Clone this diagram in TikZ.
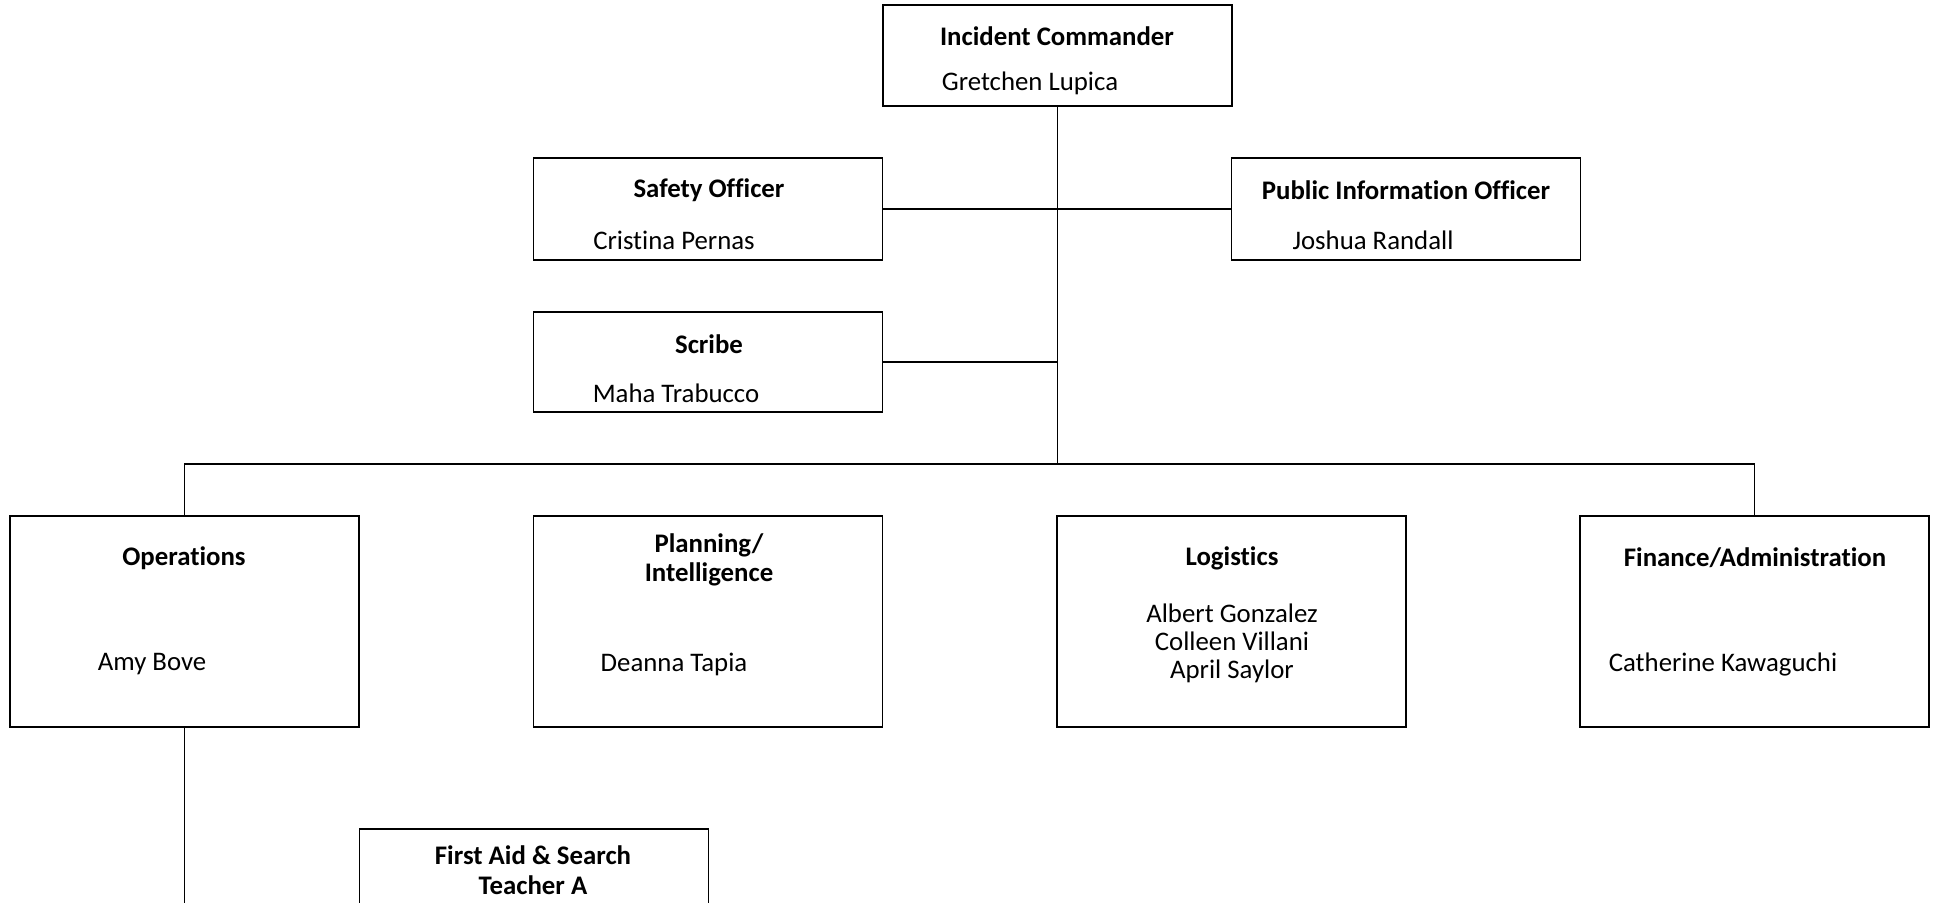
\documentclass[tikz,border=0pt]{standalone}
\usepackage{fontspec}
\setmainfont{Carlito}[Ligatures=NoCommon]
\begin{document}
\begin{tikzpicture}[x=0.5pt,y=-0.5pt,
  box/.style={draw=black,line width=0.7pt,rectangle,inner sep=0pt,minimum width=174.5pt},
  small/.style={box,minimum height=50.5pt},
  big/.style={box,minimum height=105.5pt},
  ttl/.style={inner sep=0pt,align=center,font=\fontsize{13.4}{14.8}\selectfont\bfseries},
  nm/.style={inner sep=0pt,align=center,font=\fontsize{13.4}{14}\selectfont},
  conn/.style={line width=0.7pt}]
\useasboundingbox (0,0) rectangle (1939,903);
\clip (0,0) rectangle (1939,903);
% boxes
\node[small] (ic) at (1057.5,55.5) {};
\node[small,minimum height=51pt] (safety) at (708,209) {};
\node[small,minimum height=51pt] (pio) at (1406,209) {};
\node[small,minimum height=50pt] (scribe) at (708,362) {};
\node[big] (ops) at (184.5,621.5) {};
\node[big] (plan) at (708,621.5) {};
\node[big] (log) at (1231.5,621.5) {};
\node[big] (fin) at (1754.5,621.5) {};
\node[box,minimum height=80pt] (aid) at (534,909) {};
% texts
\node[ttl] (icT) at (1057,36) {Incident Commander};
\node[nm] (icN) at (1030,83) {Gretchen Lupica};
\node[ttl] (safT) at (709,190) {Safety Officer};
\node[nm] (safN) at (674,240) {Cristina Pernas};
\node[ttl] (pioT) at (1406,190) {Public Information Officer};
\node[nm] (pioN) at (1373,240) {Joshua Randall};
\node[ttl] (scrT) at (709,344) {Scribe};
\node[nm] (scrN) at (676,393) {Maha Trabucco};
\node[ttl] (opsT) at (184,558) {Operations};
\node[nm] (opsN) at (152,664) {Amy Bove};
\node[ttl] (planT) at (709,560) {Planning/\\Intelligence};
\node[nm] (planN) at (674,664) {Deanna Tapia};
\node[ttl] (logT) at (1232,558) {Logistics};
\node[nm] (logN) at (1232,643) {Albert Gonzalez\\Colleen Villani\\April Saylor};
\node[ttl] (finT) at (1755,558) {Finance/Administration};
\node[nm] (finN) at (1723,664) {Catherine Kawaguchi};
\node[ttl] (aidT) at (533,870) {First Aid \& Search\\Teacher A};
% connectors
\coordinate (bus) at (1057.5,464);
\coordinate (j2) at (1057.5,362);
\coordinate (opsbottom) at (184.5,903);
\draw[conn] (ic.south) -- (bus);
\draw[conn] (safety.east) -- (pio.west);
\draw[conn] (scribe.east) -- (j2);
\draw[conn] (ops.north) |- (bus) -| (fin.north);
\draw[conn] (ops.south) -- (opsbottom);
\end{tikzpicture}
\end{document}
